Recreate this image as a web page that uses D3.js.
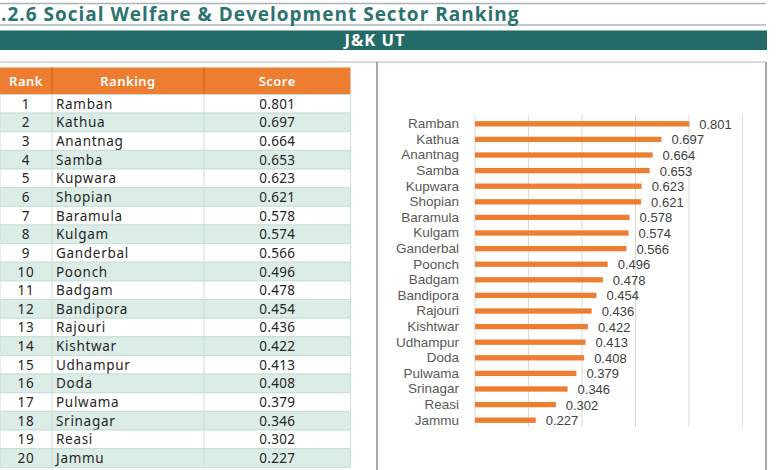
<!DOCTYPE html>
<html>
<head>
<meta charset="utf-8">
<script src="https://cdn.jsdelivr.net/npm/d3@7"></script>
<style>
  body { margin: 0; background: #fff; }
  svg { display: block; }
</style>
</head>
<body>
<svg id="page" width="780" height="470"></svg>
<script>
const districts = ["Ramban", "Kathua", "Anantnag", "Samba", "Kupwara", "Shopian", "Baramula", "Kulgam",
  "Ganderbal", "Poonch", "Badgam", "Bandipora", "Rajouri", "Kishtwar", "Udhampur", "Doda",
  "Pulwama", "Srinagar", "Reasi", "Jammu"];
const scores = [0.801, 0.697, 0.664, 0.653, 0.623, 0.621, 0.578, 0.574, 0.566, 0.496,
  0.478, 0.454, 0.436, 0.422, 0.413, 0.408, 0.379, 0.346, 0.302, 0.227];
const gridTicks = [0, 0.2, 0.4, 0.6, 0.8, 1.0];
const headers = ["Rank", "Ranking", "Score"];

const teal = "#236b68", orange = "#ed7d31";
const svg = d3.select("#page");
const tableFont = "'Noto Sans', sans-serif";

// title block
svg.append("line").attr("x1", 0).attr("x2", 766).attr("y1", 3.5).attr("y2", 3.5)
  .attr("stroke", "#a9b4bb").attr("stroke-width", 1.5);
svg.append("line").attr("x1", 0).attr("x2", 766).attr("y1", 25).attr("y2", 25)
  .attr("stroke", "#a9b4bb").attr("stroke-width", 1.5);
svg.append("text")
  .attr("x", 1).attr("y", 20.5)
  .attr("font-family", "'Open Sans', sans-serif")
  .attr("font-weight", "bold")
  .attr("font-size", "19px")
  .attr("letter-spacing", "1px")
  .attr("fill", "#2a736e")
  .text(".2.6 Social Welfare & Development Sector Ranking");

svg.append("rect").attr("x", 0).attr("y", 30.5).attr("width", 767).attr("height", 19.5).attr("fill", teal);
svg.append("text")
  .attr("x", 375).attr("y", 46)
  .attr("text-anchor", "middle")
  .attr("font-family", "'Open Sans', sans-serif")
  .attr("font-weight", "bold")
  .attr("font-size", "16.5px")
  .attr("letter-spacing", "1px")
  .attr("fill", "#fff")
  .text("J&K UT");

// frame round table + chart
svg.append("line").attr("x1", 0).attr("x2", 766).attr("y1", 62).attr("y2", 62)
  .attr("stroke", "#b5b5b5").attr("stroke-width", 1);
svg.append("line").attr("x1", 377).attr("x2", 377).attr("y1", 62).attr("y2", 470)
  .attr("stroke", "#8a8a8a").attr("stroke-width", 1.5);
svg.append("line").attr("x1", 766).attr("x2", 766).attr("y1", 62).attr("y2", 470)
  .attr("stroke", "#8a8a8a").attr("stroke-width", 1.5);

// ---- table ----
const colEdges = [0, 52, 204, 350.5];
const headTop = 67.5, headBottom = 94.5;
const rowY = d3.scaleBand().domain(districts).range([headBottom, 467.3]);

const tbl = svg.append("g");
tbl.append("rect").attr("x", 0).attr("y", headTop).attr("width", colEdges[3]).attr("height", headBottom - headTop)
  .attr("fill", orange);
tbl.selectAll("line.hdiv").data([1, 2]).enter().append("line")
  .attr("x1", i => colEdges[i]).attr("x2", i => colEdges[i])
  .attr("y1", headTop).attr("y2", headBottom)
  .attr("stroke", "#c8601e").attr("stroke-width", 1);
tbl.selectAll("text.head").data(headers).enter().append("text")
  .attr("x", (d, i) => (colEdges[i] + colEdges[i + 1]) / 2)
  .attr("y", (headTop + headBottom) / 2 + 4.5)
  .attr("text-anchor", "middle")
  .attr("font-family", tableFont)
  .attr("font-size", "13px")
  .attr("letter-spacing", "0.5px")
  .attr("font-weight", 600)
  .attr("fill", "#fff")
  .text(d => d);

const rows = tbl.selectAll("g.row").data(districts).enter().append("g")
  .attr("transform", d => `translate(0,${rowY(d)})`);
rows.append("rect")
  .attr("width", colEdges[3]).attr("height", rowY.bandwidth())
  .attr("fill", (d, i) => i % 2 ? "#dcede7" : "#fff")
  .attr("stroke", "#c6ded7").attr("stroke-width", 1);
rows.selectAll("line").data([1, 2]).enter().append("line")
  .attr("x1", i => colEdges[i]).attr("x2", i => colEdges[i])
  .attr("y1", 0).attr("y2", rowY.bandwidth())
  .attr("stroke", "#c6ded7").attr("stroke-width", 1);
const cellText = (sel) => sel
  .attr("y", rowY.bandwidth() / 2 + 5)
  .attr("font-family", tableFont)
  .attr("font-size", "13.5px")
  .attr("letter-spacing", "0.7px")
  .attr("fill", "#262626");
rows.append("text").call(cellText)
  .attr("x", (colEdges[0] + colEdges[1]) / 2).attr("text-anchor", "middle")
  .text((d, i) => i + 1);
rows.append("text").call(cellText)
  .attr("x", colEdges[1] + 4)
  .text(d => d);
rows.append("text").call(cellText)
  .attr("x", (colEdges[2] + colEdges[3]) / 2).attr("text-anchor", "middle")
  .attr("letter-spacing", "0.3px")
  .text((d, i) => scores[i].toFixed(3));

// ---- bar chart ----
const x = d3.scaleLinear().domain([0, 1]).range([475, 742.5]);
const y = d3.scaleBand().domain(districts).range([116, 428]).paddingInner(0.66).paddingOuter(0.33);
const chart = svg.append("g");

chart.selectAll("line.grid").data(gridTicks).enter().append("line")
  .attr("x1", d => x(d)).attr("x2", d => x(d))
  .attr("y1", 115).attr("y2", 427)
  .attr("stroke", "#dadada").attr("stroke-width", 1);

chart.selectAll("rect.bar").data(districts).enter().append("rect")
  .attr("x", x(0))
  .attr("y", d => y(d))
  .attr("width", (d, i) => x(scores[i]) - x(0))
  .attr("height", y.bandwidth())
  .attr("fill", orange);

chart.append("g")
  .attr("transform", `translate(${x(0) - 16},0)`)
  .call(d3.axisLeft(y).tickSize(0).tickPadding(0))
  .call(g => g.select(".domain").remove())
  .call(g => g.selectAll("text")
    .attr("font-family", "'Liberation Sans', Arial, sans-serif")
    .attr("font-size", "13.5px")
    .attr("fill", "#595959"));

chart.selectAll("text.val").data(districts).enter().append("text")
  .attr("x", (d, i) => x(scores[i]) + 10)
  .attr("y", d => y(d) + y.bandwidth() / 2 + 5)
  .attr("font-family", "'Liberation Sans', Arial, sans-serif")
  .attr("font-size", "13px")
  .attr("fill", "#404040")
  .text((d, i) => scores[i].toFixed(3));
</script>
</body>
</html>
